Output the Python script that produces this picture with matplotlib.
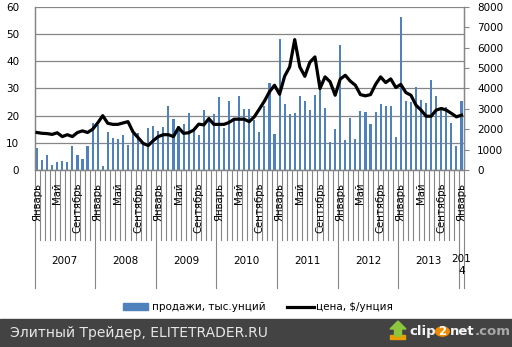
import matplotlib
matplotlib.use('Agg')
import matplotlib.pyplot as plt
from matplotlib.patches import Rectangle, Circle, Polygon
from matplotlib.lines import Line2D

# ---------------- data ----------------
years = ['2007', '2008', '2009', '2010', '2011', '2012', '2013']
last_year_label = '201\n4'
month_names = {0: 'Январь', 4: 'Май', 8: 'Сентябрь'}

sales = [8.1, 3.8, 5.5, 1.8, 2.9, 3.3, 2.9, 8.8, 5.5, 4.0, 8.8, 17.3,
         16.4, 1.5, 14.0, 11.8, 11.4, 12.9, 9.2, 13.4, 13.5, 9.5, 15.5, 16.2,
         14.4, 15.8, 23.5, 18.7, 16.3, 17.0, 20.9, 14.5, 12.9, 22.1, 19.5, 20.6,
         26.8, 15.5, 25.4, 18.4, 27.2, 22.4, 22.4, 18.4, 14.0, 23.5, 32.0, 13.2,
         48.2, 24.3, 20.6, 21.0, 27.2, 25.4, 22.1, 27.6, 33.0, 22.8, 10.3, 15.1,
         46.0, 11.0, 19.1, 11.4, 21.7, 21.3, 16.9, 21.3, 24.3, 23.5, 23.5, 12.1,
         56.2, 25.4, 25.0, 30.5, 25.7, 24.6, 33.1, 27.2, 22.1, 23.2, 17.3, 8.8,
         25.4]

price = [1840, 1800, 1787, 1747, 1827, 1640, 1733, 1640, 1840, 1920, 1840, 2000,
         2307, 2667, 2293, 2240, 2240, 2307, 2373, 1867, 1587, 1307, 1200, 1440,
         1640, 1733, 1733, 1640, 2080, 1800, 1827, 1960, 2253, 2213, 2520, 2240,
         2240, 2240, 2333, 2493, 2493, 2493, 2373, 2610, 2990, 3380, 3840, 4160,
         3720, 4600, 5060, 6400, 5060, 4600, 5290, 5550, 4000, 4570, 4330, 3670,
         4460, 4650, 4360, 4160, 3700, 3640, 3700, 4200, 4570, 4290, 4470, 4050,
         4200, 3800, 3670, 3180, 2940, 2640, 2640, 2940, 3020, 2940, 2780, 2610,
         2690]

left_ticks = [0, 10, 20, 30, 40, 50, 60]
right_ticks = [0, 1000, 2000, 3000, 4000, 5000, 6000, 7000, 8000]
legend_labels = ['продажи, тыс.унций', 'цена, $/унция']
footer_text = 'Элитный Трейдер, ELITETRADER.RU'
logo_parts = ['clip', '2', 'net', '.com']

# ---------------- style ----------------
W, H = 512, 347
BLUE = '#4F81BD'
GRID = '#868686'
TXT = '#000000'
plt.rcParams['font.family'] = ['DejaVu Sans']

fig = plt.figure(figsize=(W / 100, H / 100), dpi=100)
fig.patch.set_facecolor('white')

L, R, T, B = 34.5, 464, 7, 170
ax = fig.add_axes([L / W, 1 - B / H, (R - L) / W, (B - T) / H])
n = len(sales)
x = list(range(n))

ax.bar(x, sales, width=0.42, color=BLUE, zorder=2)
ax.set_xlim(-0.5, n - 0.5)
ax.set_ylim(0, 60)
ax.set_yticks(left_ticks)
ax.set_xticks([])
ax.yaxis.grid(True, color=GRID, lw=0.9)
ax.set_axisbelow(True)
ax.tick_params(axis='y', length=0, pad=11, labelsize=7.5, colors=TXT)
ax.spines['top'].set_visible(False)
for s in ['left', 'bottom', 'right']:
    ax.spines[s].set_color(GRID)
    ax.spines[s].set_linewidth(0.9)

ax2 = ax.twinx()
ax2.plot(x, price, color='black', lw=2.3, solid_joinstyle='round', zorder=3)
ax2.set_ylim(0, 8000)
ax2.set_yticks(right_ticks)
ax2.tick_params(axis='y', length=3.5, width=0.8, pad=6, labelsize=7.5, labelcolor=TXT, color=GRID)
ax2.spines['top'].set_visible(False)
for s in ['left', 'bottom', 'right']:
    ax2.spines[s].set_color(GRID)
    ax2.spines[s].set_linewidth(0.9)

# category axis: month boundary ticks, year separators
ph = B - T
trans = ax.get_xaxis_transform()
for k in range(n + 1):
    xb = k - 0.5
    is_year = (k % 12 == 0) or (k == n)
    depth = 118 if is_year else 70
    ax.plot([xb, xb], [0, -depth / ph], transform=trans, color=GRID,
            lw=0.8, clip_on=False, zorder=1)

for yi in range(len(years) + 1):
    for m, name in month_names.items():
        idx = 12 * yi + m
        if idx < n:
            ax.annotate(name, xy=(idx, 0), xycoords=trans, xytext=(0, -13),
                        textcoords='offset pixels', rotation=90, ha='center',
                        va='top', fontsize=7.3, color=TXT)

for yi, yl in enumerate(years):
    ax.annotate(yl, xy=(12 * yi + 5.5, 0), xycoords=trans, xytext=(0, -91),
                textcoords='offset pixels', ha='center', va='center',
                fontsize=7.5, color=TXT)
ax.annotate(last_year_label, xy=(84, 0), xycoords=trans, xytext=(0, -84),
            textcoords='offset pixels', ha='center', va='top',
            fontsize=7.5, color=TXT, linespacing=1.3)

# legend (manual)
def fx(px):
    return px / W

def fy(py):
    return 1 - py / H

ly = 306.5
fig.patches.append(Rectangle((fx(123), fy(ly + 3.5)), fx(25), 7 / H,
                             transform=fig.transFigure, color=BLUE))
fig.text(fx(152), fy(ly), legend_labels[0], fontsize=7.5, va='center', ha='left', color=TXT)
fig.lines.append(Line2D([fx(287), fx(314)], [fy(ly), fy(ly)], transform=fig.transFigure,
                        color='black', lw=2.3))
fig.text(fx(316), fy(ly), legend_labels[1], fontsize=7.5, va='center', ha='left', color=TXT)

# footer band
fig.patches.append(Rectangle((0, 0), 1, 28 / H, transform=fig.transFigure,
                             color='#434343', zorder=0))
fig.text(fx(10), fy(333), footer_text, fontsize=10, color='#e6e6e6',
         va='center', ha='left')

# clip2net logo
fig.patches.append(Polygon([(fx(390), fy(339)), (fx(405), fy(339)), (fx(405), fy(335)),
                            (fx(390), fy(335))], closed=True, transform=fig.transFigure,
                           color='#e8a000', zorder=2))
fig.patches.append(Polygon([(fx(390), fy(329)), (fx(398), fy(321)), (fx(406), fy(329)),
                            (fx(401.5), fy(329)), (fx(401.5), fy(336)), (fx(394.5), fy(336)),
                            (fx(394.5), fy(329))], closed=True, transform=fig.transFigure,
                           color='#8cc63f', zorder=3))
renderer = fig.canvas.get_renderer()
cx = 409
logo_y = fy(331.5)
colors = ['#f4f4f4', 'white', '#f4f4f4', '#a8a8a8']
for part, col in zip(logo_parts, colors):
    if part == '2':
        cxc = cx + 6.5
        fig.patches.append(Circle((fx(cxc), logo_y), 6.8 / W, transform=fig.transFigure,
                                  color='#f08a00', zorder=2))
        fig.text(fx(cxc), logo_y, part, fontsize=8.5, fontweight='bold', color=col,
                 va='center', ha='center', zorder=4)
        cx = cxc + 7
    else:
        t = fig.text(fx(cx), logo_y, part, fontsize=9.5, fontweight='bold', color=col,
                     va='center', ha='left')
        bb = t.get_window_extent(renderer)
        cx = bb.x1 + 0.3

fig.savefig('out.png', dpi=100, facecolor='white')
